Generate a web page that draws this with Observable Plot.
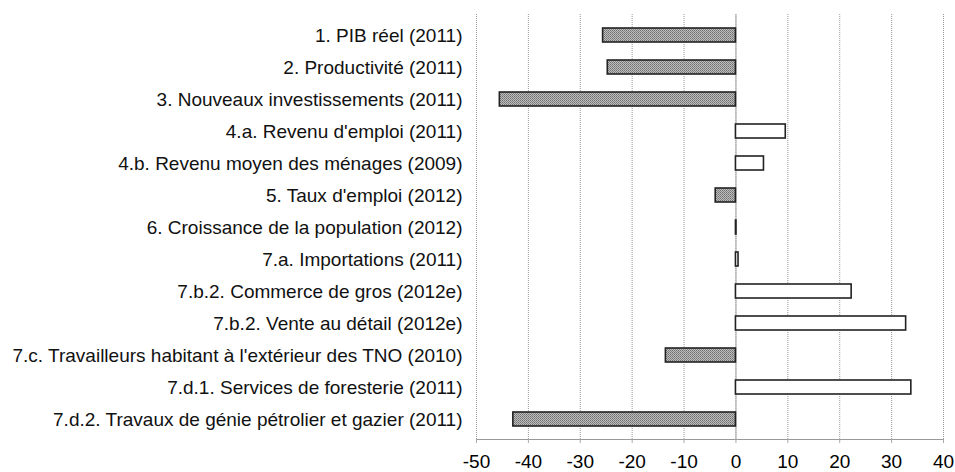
<!DOCTYPE html>
<html><head><meta charset="utf-8">
<script src="https://cdn.jsdelivr.net/npm/d3@7"></script>
<script src="https://cdn.jsdelivr.net/npm/@observablehq/plot@0.6"></script>
<style>body{margin:0;background:#fff}</style>
</head><body><div id="chart"></div>
<script>
const categories = [
  "1. PIB réel (2011)",
  "2. Productivité (2011)",
  "3. Nouveaux investissements (2011)",
  "4.a. Revenu d'emploi (2011)",
  "4.b. Revenu moyen des ménages (2009)",
  "5. Taux d'emploi (2012)",
  "6. Croissance de la population (2012)",
  "7.a. Importations (2011)",
  "7.b.2. Commerce de gros (2012e)",
  "7.b.2. Vente au détail (2012e)",
  "7.c. Travailleurs habitant à l'extérieur des TNO (2010)",
  "7.d.1. Services de foresterie (2011)",
  "7.d.2. Travaux de génie pétrolier et gazier (2011)"
];
const values = [-25.6, -24.7, -45.5, 9.6, 5.4, -3.9, 0.1, 0.5, 22.3, 32.8, -13.5, 33.8, -42.9];
const xTicks = [-50, -40, -30, -20, -10, 0, 10, 20, 30, 40];

const data = categories.map((c, i) => ({cat: c, value: values[i]}));

const svg = Plot.plot({
  width: 955,
  height: 472,
  marginLeft: 476,
  marginRight: 12,
  marginTop: 14,
  marginBottom: 33,
  style: {fontFamily: "Arial, 'Liberation Sans', sans-serif", background: "#fff", color: "#000"},
  x: {domain: [-50, 40], label: null},
  y: {domain: categories, paddingInner: 0.57, paddingOuter: 0.285, label: null},
  marks: [
    Plot.gridX(xTicks, {stroke: "#999", strokeOpacity: 1, strokeDasharray: "1,1"}),
    Plot.frame({anchor: "bottom", stroke: "#999", strokeDasharray: "1,1"}),
    Plot.ruleX([0], {stroke: "#aaa"}),
    Plot.axisX(xTicks, {tickSize: 4, tickPadding: 11, fontSize: 19, stroke: "#aaa", fill: "#000", tickFormat: d => String(d)}),
    Plot.axisY({tickSize: 0, tickPadding: 14, fontSize: 19, fill: "#111"}),
    Plot.barX(data, {
      x: "value", y: "cat",
      fill: d => d.value < 0 ? "url(#dither)" : "#fff",
      stroke: "#222", strokeWidth: 1.6
    })
  ]
});

d3.select(svg).insert("defs", ":first-child").html(
  '<pattern id="dither" width="2" height="2" patternUnits="userSpaceOnUse">' +
  '<rect width="2" height="2" fill="#bdbdbd"/>' +
  '<rect x="0" y="0" width="1" height="1" fill="#707070"/>' +
  '<rect x="1" y="1" width="1" height="1" fill="#858585"/>' +
  '</pattern>'
);

document.getElementById("chart").appendChild(svg);
</script>
</body></html>
